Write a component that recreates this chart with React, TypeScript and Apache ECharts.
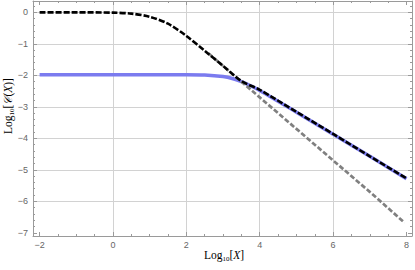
import React, { useEffect, useRef } from 'react';
import * as echarts from 'echarts';

// ---- data ----
const blackX = [-2, -1, 0, 0.5, 1, 1.5, 2, 2.5, 3, 3.5, 4, 5, 6, 7, 8];
const blackY = [0, 0, -0.01, -0.04, -0.14, -0.36, -0.75, -1.22, -1.7, -2.18, -2.46, -3.16, -3.86, -4.57, -5.27];

const blueX = [-2, 0, 2, 2.5, 3, 3.25, 3.5, 3.75, 4, 5, 6, 7, 8];
const blueY = [-1.98, -1.98, -1.98, -1.99, -2.04, -2.1, -2.2, -2.33, -2.48, -3.17, -3.87, -4.57, -5.28];

const grayX = [2.6, 4, 5, 6, 7, 7.95];
const grayY = [-1.3, -2.7, -3.7, -4.7, -5.7, -6.68];

// ---- ticks ----
const xTickMajor = [-2, 0, 2, 4, 6, 8];
const xTickMinor = [-1.5, -1, -0.5, 0.5, 1, 1.5, 2.5, 3, 3.5, 4.5, 5, 5.5, 6.5, 7, 7.5];
const xGridLines = [0, 2, 4, 6];
const yTickMajor = [0, -1, -2, -3, -4, -5, -6, -7];
const yTickMinor = [
  0.2, -0.2, -0.4, -0.6, -0.8, -1.2, -1.4, -1.6, -1.8, -2.2, -2.4, -2.6, -2.8,
  -3.2, -3.4, -3.6, -3.8, -4.2, -4.4, -4.6, -4.8, -5.2, -5.4, -5.6, -5.8,
  -6.2, -6.4, -6.6, -6.8,
];
const yGridLines = [0, -1, -2, -3, -4, -5, -6];

const X_MIN = -2.18;
const X_MAX = 8.15;
const Y_MIN = -7.1;
const Y_MAX = 0.36;

const AXIS_COLOR = '#9a9a9a';
const GRID_COLOR = '#d2d2d2';

const fmt = (v: number) => (v < 0 ? '\u2212' + Math.abs(v) : String(v));

function zip(xs: number[], ys: number[]) {
  return xs.map((x, i) => [x, ys[i]]);
}

function xAxisDef(kind: 'major' | 'minor' | 'grid', position: 'bottom' | 'top', labels = false) {
  const ticks = kind === 'major' ? xTickMajor : kind === 'minor' ? xTickMinor : xGridLines;
  return {
    type: 'value',
    gridIndex: 0,
    min: X_MIN,
    max: X_MAX,
    position,
    axisLine: { show: kind === 'major', onZero: false, lineStyle: { color: AXIS_COLOR, width: 1 } },
    axisTick: {
      show: kind !== 'grid',
      inside: true,
      length: kind === 'major' ? 4 : 2,
      customValues: ticks,
      lineStyle: { color: AXIS_COLOR, width: 1 },
    },
    axisLabel: {
      show: labels,
      customValues: ticks,
      formatter: fmt,
      color: '#666',
      fontSize: 9,
      fontFamily: 'Liberation Sans',
      margin: 4,
    },
    splitLine: { show: kind === 'grid', lineStyle: { color: GRID_COLOR, width: 1 } },
    minorTick: { show: false },
    minorSplitLine: { show: false },
  };
}

function yAxisDef(kind: 'major' | 'minor' | 'grid', position: 'left' | 'right', labels = false) {
  const ticks = kind === 'major' ? yTickMajor : kind === 'minor' ? yTickMinor : yGridLines;
  return {
    type: 'value',
    gridIndex: 0,
    min: Y_MIN,
    max: Y_MAX,
    position,
    axisLine: { show: kind === 'major', onZero: false, lineStyle: { color: AXIS_COLOR, width: 1 } },
    axisTick: {
      show: kind !== 'grid',
      inside: true,
      length: kind === 'major' ? 4 : 2,
      customValues: ticks,
      lineStyle: { color: AXIS_COLOR, width: 1 },
    },
    axisLabel: {
      show: labels,
      customValues: ticks,
      formatter: fmt,
      color: '#666',
      fontSize: 9,
      fontFamily: 'Liberation Sans',
      margin: 5,
    },
    splitLine: { show: kind === 'grid', lineStyle: { color: GRID_COLOR, width: 1 } },
    minorTick: { show: false },
    minorSplitLine: { show: false },
  };
}

const titleRich = {
  a: { fontFamily: 'Liberation Serif', fontSize: 11.5, color: '#333', lineHeight: 14 },
  i: { fontFamily: 'Liberation Serif', fontStyle: 'italic', fontSize: 11.5, color: '#333', lineHeight: 14 },
  s: { fontFamily: 'Liberation Serif', fontSize: 7, color: '#333', lineHeight: 14, verticalAlign: 'bottom' },
};

export default function App() {
  const ref = useRef<HTMLDivElement>(null);

  useEffect(() => {
    if (!ref.current) return;
    const chart = echarts.init(ref.current, null, { renderer: 'svg' });
    chart.setOption({
      animation: false,
      backgroundColor: '#ffffff',
      grid: { left: 33, top: 1, right: 3, bottom: 34, containLabel: false },
      xAxis: [
        xAxisDef('grid', 'bottom'),
        xAxisDef('major', 'bottom', true),
        xAxisDef('minor', 'bottom'),
        xAxisDef('major', 'top'),
        xAxisDef('minor', 'top'),
      ],
      yAxis: [
        yAxisDef('grid', 'left'),
        yAxisDef('major', 'left', true),
        yAxisDef('minor', 'left'),
        yAxisDef('major', 'right'),
        yAxisDef('minor', 'right'),
      ],
      series: [
        {
          type: 'line',
          xAxisIndex: 0,
          yAxisIndex: 0,
          data: zip(blueX, blueY),
          showSymbol: false,
          smooth: 0.3,
          lineStyle: { color: '#7b7bef', width: 3.5 },
          z: 3,
        },
        {
          type: 'line',
          xAxisIndex: 0,
          yAxisIndex: 0,
          data: zip(grayX, grayY),
          showSymbol: false,
          lineStyle: { color: '#808080', width: 2.7, type: [5, 2.2] },
          z: 4,
        },
        {
          type: 'line',
          xAxisIndex: 0,
          yAxisIndex: 0,
          data: zip(blackX, blackY),
          showSymbol: false,
          smooth: 0.3,
          lineStyle: { color: '#000000', width: 2.6, type: [6, 2] },
          z: 5,
        },
      ],
      graphic: [
        {
          type: 'text',
          x: 224,
          y: 255,
          style: {
            text: '{a|Log}{s|10}{a|[}{i|X}{a|]}',
            rich: titleRich,
            align: 'center',
            verticalAlign: 'middle',
          },
        },
        {
          type: 'text',
          x: 8,
          y: 106,
          rotation: Math.PI / 2,
          style: {
            text: '{a|Log}{s|10}{a|[}{i|\uD835\uDC9E}{a|(}{i|X}{a|)]}',
            rich: titleRich,
            align: 'center',
            verticalAlign: 'middle',
          },
        },
      ],
    });
    return () => chart.dispose();
  }, []);

  return (
    <div
      ref={ref}
      style={{ position: 'fixed', left: 0, top: 0, width: 415, height: 270 }}
    />
  );
}
